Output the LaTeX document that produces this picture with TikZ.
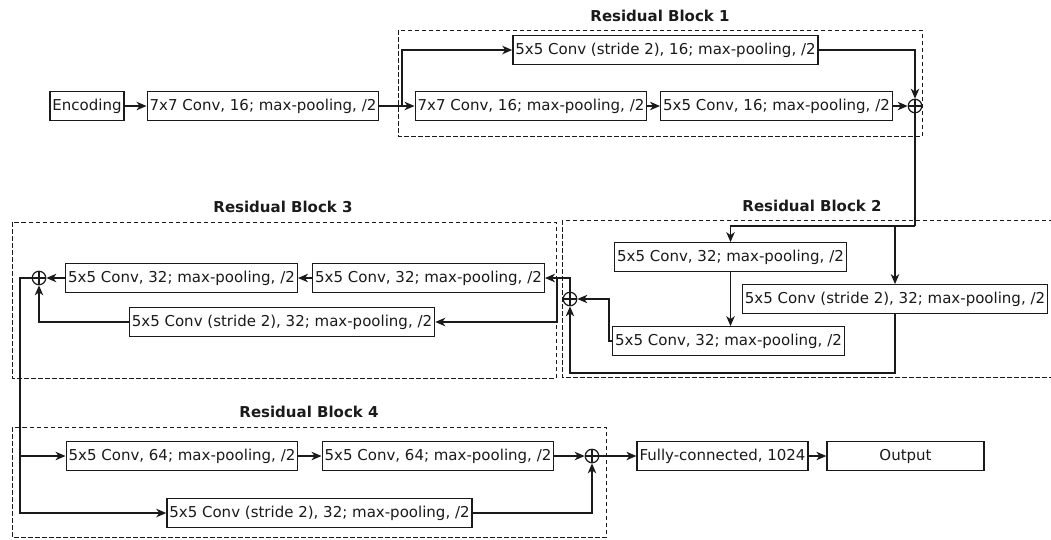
\documentclass[tikz,border=0pt]{standalone}
\usepackage{fontspec}
\setmainfont{DejaVu Sans}
\usetikzlibrary{arrows.meta,calc}
\definecolor{ink}{HTML}{1A1A1A}

\begin{document}
\begin{tikzpicture}[x=1pt,y=-1pt,
  every node/.style={font=\fontsize{15}{17}\selectfont, text=ink},
  layer/.style={draw=ink, line width=1.3pt, minimum height=28.5pt,
    inner xsep=2.5pt, inner ysep=0pt, fill=white},
  sum/.style={draw=ink, circle, line width=1.2pt, minimum size=13.5pt, inner sep=0pt,
    path picture={\draw[ink,line width=1.1pt]
      (path picture bounding box.north) -- (path picture bounding box.south)
      (path picture bounding box.west) -- (path picture bounding box.east);}},
  blockframe/.style={draw=ink, dash pattern=on 4.5pt off 2.5pt, line width=0.8pt},
  blocktitle/.style={font=\fontsize{15}{17}\selectfont\bfseries},
  link/.style={draw=ink, line width=1.3pt, -{Stealth[length=10pt,width=8.5pt,inset=3pt]}},
  wire/.style={draw=ink, line width=1.3pt}
]
\useasboundingbox (0,0) rectangle (1051,539);

% ---- block frames and titles
\draw[blockframe] (398,30) rectangle (922,136);
\node[blocktitle] (t1) at (660,16) {Residual Block 1};
\draw[blockframe] (562,220) rectangle (1060,377);
\node[blocktitle] (t2) at (812,206) {Residual Block 2};
\draw[blockframe] (12,222) rectangle (556,378);
\node[blocktitle] (t3) at (283,207) {Residual Block 3};
\draw[blockframe] (12,427) rectangle (606,537);
\node[blocktitle] (t4) at (309,412) {Residual Block 4};

% ---- first row
\node[layer] (enc) at (87,106) {Encoding};
\node[layer] (c7a) at (263,106) {7x7 Conv, 16; max-pooling, /2};
\node[layer] (c7b) at (531,106) {7x7 Conv, 16; max-pooling, /2};
\node[layer] (c5a) at (776.5,106) {5x5 Conv, 16; max-pooling, /2};
\node[layer] (s1) at (665.5,50) {5x5 Conv (stride 2), 16; max-pooling, /2};
\node[sum] (p1) at (915,106) {};

% ---- residual block 2
\node[layer] (b2a) at (730.5,257) {5x5 Conv, 32; max-pooling, /2};
\node[layer] (b2s) at (895,299) {5x5 Conv (stride 2), 32; max-pooling, /2};
\node[layer] (b2b) at (728.5,341) {5x5 Conv, 32; max-pooling, /2};
\node[sum] (p2) at (570,299) {};

% ---- residual block 3
\node[layer] (b3a) at (428.5,278) {5x5 Conv, 32; max-pooling, /2};
\node[layer] (b3b) at (181.5,278) {5x5 Conv, 32; max-pooling, /2};
\node[layer] (b3s) at (282,322) {5x5 Conv (stride 2), 32; max-pooling, /2};
\node[sum] (p3) at (39,278) {};

% ---- residual block 4 and head
\node[layer] (b4a) at (182,456) {5x5 Conv, 64; max-pooling, /2};
\node[layer] (b4b) at (438,456) {5x5 Conv, 64; max-pooling, /2};
\node[layer] (b4s) at (319.5,513) {5x5 Conv (stride 2), 32; max-pooling, /2};
\node[sum] (p4) at (592,456) {};
\node[layer] (fc) at (722.5,456) {Fully-connected, 1024};
\node[layer, minimum width=157pt] (out) at (905.5,456) {Output};

% ---- connectors, first row
\draw[link] (enc) -- (c7a);
\draw[link] (c7a) -- (c7b);
\coordinate (br1) at (402,106);
\draw[link] (br1) |- (s1.west);
\draw[link] (c7b) -- (c5a);
\draw[link] (c5a) -- (p1);
\draw[link] (s1.east) -| (p1.north);

% ---- connectors, block 2
\coordinate (top2) at (915,226);
\draw[wire] (p1.south) -- (top2);
\draw[link] (top2) -| (b2a.north);
\coordinate (br2) at (b2s.north |- top2);
\draw[link] (br2) -- (b2s.north);
\draw[link] (b2a.south) -- (b2a.south |- b2b.north);
\draw[link] (b2b.west) -- ++(-3,0) |- (p2.east);
\draw[link] (b2s.south) -- ++(0,59) -| (p2.south);

% ---- connectors, block 3
\draw[link] (p2.north) |- (b3a.east);
\coordinate (br3) at (557,278);
\draw[link] (br3) |- (b3s.east);
\draw[link] (b3a) -- (b3b);
\draw[link] (b3b) -- (p3);
\draw[link] (b3s.west) -| (p3.south);

% ---- connectors, block 4 and head
\coordinate (turn3) at (20,278);
\draw[link] (p3.west) -- (turn3) |- (b4s.west);
\draw[link] (turn3 |- b4a.west) -- (b4a.west);
\draw[link] (b4a) -- (b4b);
\draw[link] (b4b) -- (p4);
\draw[link] (b4s.east) -| (p4.south);
\draw[link] (p4) -- (fc);
\draw[link] (fc) -- (out);
\end{tikzpicture}
\end{document}
